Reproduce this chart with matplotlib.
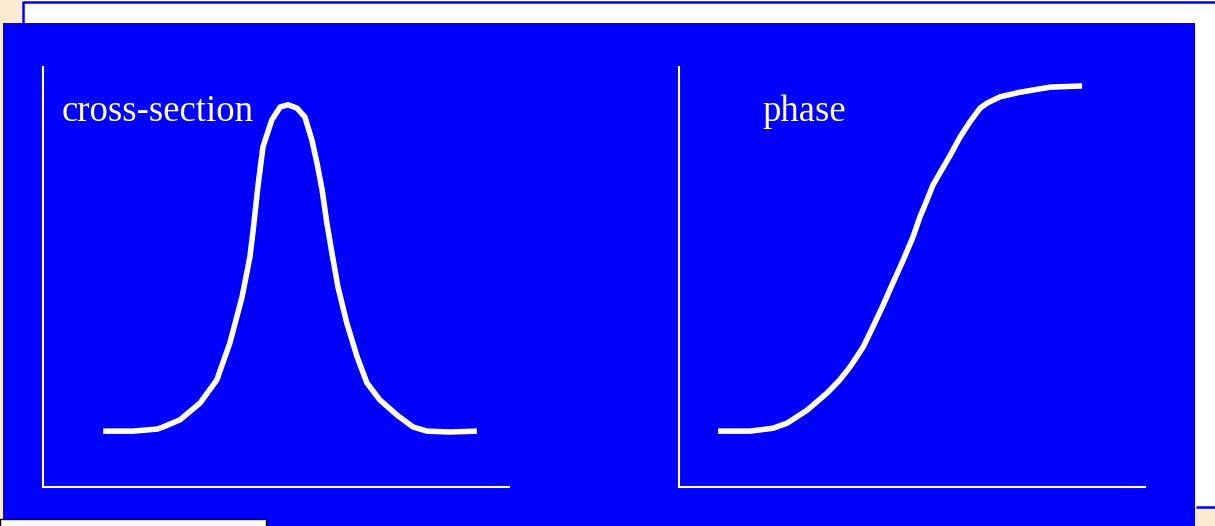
import matplotlib
matplotlib.use("Agg")
import matplotlib.pyplot as plt
from matplotlib.patches import Rectangle

# ---- data (arbitrary units, 0-100) ----
cs_energy = [12.9, 19.3, 24.5, 25.8, 29.4, 33.7, 37.3, 40.1, 42.7, 44.4, 45.1, 46.1,
             47.2, 49.1, 50.9, 52.6, 54.5, 56.2, 57.7, 58.8, 59.9, 60.9, 62.0, 63.3,
             65.2, 67.4, 69.5, 72.3, 76.0, 79.4, 82.4, 87.3, 93.1]
cs_value = [13.3, 13.3, 13.8, 14.3, 16.0, 20.0, 25.5, 34.3, 45.2, 54.8, 61.2, 71.4,
            81.0, 87.4, 90.5, 91.0, 90.2, 88.1, 82.6, 77.1, 70.7, 62.9, 55.7, 47.6,
            39.0, 31.0, 24.8, 20.7, 17.1, 14.3, 13.3, 13.1, 13.3]

ph_energy = [8.4, 15.2, 20.2, 23.2, 27.5, 31.8, 34.5, 36.7, 39.5, 41.6, 43.8, 45.9,
             48.1, 50.2, 51.7, 53.2, 54.5, 56.0, 58.2, 60.3, 62.4, 64.6, 66.1, 68.9,
             73.2, 79.6, 86.5]
ph_value = [13.3, 13.3, 14.0, 15.2, 18.3, 22.4, 25.5, 28.6, 33.3, 38.1, 43.3, 48.6,
            54.0, 59.5, 64.3, 68.3, 71.9, 74.8, 79.0, 83.3, 86.9, 90.2, 91.4, 92.9,
            94.0, 95.2, 95.5]

labels = ["cross-section", "phase"]

W, H = 1215, 526
DPI = 100
BLUE = "#0000FF"
BEIGE = "#FBEBD3"

fig = plt.figure(figsize=(W / DPI, H / DPI), dpi=DPI)
fig.patch.set_facecolor("white")

# background decoration layer in pixel coordinates
bg = fig.add_axes([0, 0, 1, 1])
bg.set_xlim(0, W)
bg.set_ylim(H, 0)
bg.axis("off")
bg.add_patch(Rectangle((0, 0), 22, 23, color=BEIGE, lw=0))
bg.add_patch(Rectangle((0, 0), 3, H, color=BEIGE, lw=0))
bg.add_patch(Rectangle((1196, 508), 19, 18, color=BEIGE, lw=0))
bg.plot([23, W], [2, 2], color=BLUE, lw=1.8, solid_capstyle="butt")
bg.plot([23, 23], [1, 23], color=BLUE, lw=1.8, solid_capstyle="butt")
bg.plot([1196, W], [506.5, 506.5], color=BLUE, lw=1.8, solid_capstyle="butt")
bg.add_patch(Rectangle((3, 23), 1192, H - 23, color=BLUE, lw=0))
bg.add_patch(Rectangle((0, 519), 266, 10, facecolor="white", edgecolor="black", lw=1))


def panel_axes(x0, x1, y0, y1):
    return fig.add_axes([x0 / W, 1 - y1 / H, (x1 - x0) / W, (y1 - y0) / H])


axL = panel_axes(43, 509, 67, 487)
axR = panel_axes(679, 1145, 67, 487)

for ax, xs, ys, lab, tx in [(axL, cs_energy, cs_value, labels[0], 3.9),
                            (axR, ph_energy, ph_value, labels[1], 17.8)]:
    ax.set_facecolor("none")
    ax.set_xlim(0, 100)
    ax.set_ylim(0, 100)
    for s in ["top", "right"]:
        ax.spines[s].set_visible(False)
    for s in ["left", "bottom"]:
        ax.spines[s].set_color("white")
        ax.spines[s].set_linewidth(1.5)
    ax.set_xticks([])
    ax.set_yticks([])
    ax.plot(xs, ys, color="white", lw=4.0, solid_joinstyle="round",
            solid_capstyle="butt", clip_on=False)
    ax.text(tx, 87.1, lab, color="white", fontsize=26.5,
            family=["Liberation Serif", "DejaVu Serif"], va="baseline", ha="left")

fig.savefig("out.png", dpi=DPI, facecolor=fig.get_facecolor())
